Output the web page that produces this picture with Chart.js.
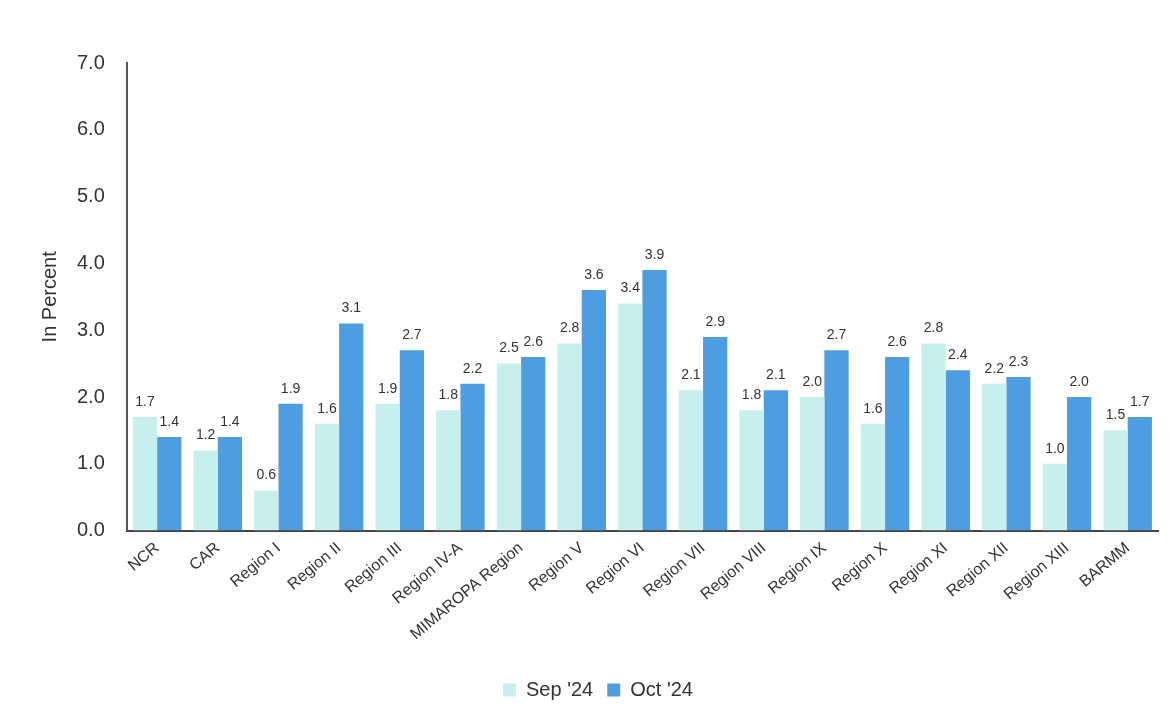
<!DOCTYPE html>
<html>
<head>
<meta charset="utf-8">
<script src="https://cdn.jsdelivr.net/npm/chart.js@4"></script>
<style>
  body { margin: 0; background: #fff; }
  #wrap { width: 1170px; height: 720px; }
</style>
</head>
<body>
<div id="wrap"><canvas id="myChart"></canvas></div>
<script>
var regions = ['NCR', 'CAR', 'Region I', 'Region II', 'Region III', 'Region IV-A', 'MIMAROPA Region',
    'Region V', 'Region VI', 'Region VII', 'Region VIII', 'Region IX', 'Region X', 'Region XI',
    'Region XII', 'Region XIII', 'BARMM'];
var sep24 = [1.7, 1.2, 0.6, 1.6, 1.9, 1.8, 2.5, 2.8, 3.4, 2.1, 1.8, 2.0, 1.6, 2.8, 2.2, 1.0, 1.5];
var oct24 = [1.4, 1.4, 1.9, 3.1, 2.7, 2.2, 2.6, 3.6, 3.9, 2.9, 2.1, 2.7, 2.6, 2.4, 2.3, 2.0, 1.7];
var yTicks = [0, 1, 2, 3, 4, 5, 6, 7];

// numbers above the bars
var barLabels = {
    id: 'barLabels',
    afterDatasetsDraw: function (chart) {
        var ctx = chart.ctx;
        ctx.save();
        ctx.font = '14px "Liberation Sans", Arial, sans-serif';
        ctx.fillStyle = '#333';
        ctx.textAlign = 'center';
        ctx.textBaseline = 'bottom';
        chart.data.datasets.forEach(function (ds, i) {
            chart.getDatasetMeta(i).data.forEach(function (bar, j) {
                ctx.fillText(ds.data[j].toFixed(1), bar.x, bar.y - 8);
            });
        });
        ctx.restore();
    }
};

var ctx = document.getElementById('myChart').getContext('2d');
var chart = new Chart(ctx, {
    type: 'bar',
    data: {
        labels: regions,
        datasets: [{
            label: "Sep '24",
            backgroundColor: '#c6efed',
            data: sep24
        },
        {
            label: "Oct '24",
            backgroundColor: '#4d9de0',
            data: oct24
        }]
    },
    options: {
        responsive: true,
        maintainAspectRatio: false,
        animation: false,
        layout: { padding: { left: 38, right: 12, top: 63, bottom: 10 } },
        datasets: { bar: { categoryPercentage: 0.8, barPercentage: 1.0 } },
        scales: {
            x: {
                grid: { display: false, drawTicks: false },
                border: { color: '#444', width: 2 },
                ticks: {
                    color: '#333',
                    font: { family: '"Liberation Sans", Arial, sans-serif', size: 16 },
                    minRotation: 40,
                    maxRotation: 40,
                    padding: 8
                },
                afterFit: function (axis) { axis.height += 14; }
            },
            y: {
                min: 0,
                max: 7,
                afterBuildTicks: function (axis) {
                    axis.ticks = yTicks.map(function (v) { return { value: v }; });
                },
                grid: { display: false, drawTicks: false },
                border: { color: '#555', width: 2 },
                ticks: {
                    color: '#333',
                    padding: 22,
                    font: { family: '"Liberation Sans", Arial, sans-serif', size: 20 },
                    callback: function (v) { return Number(v).toFixed(1); }
                },
                title: {
                    display: true,
                    text: 'In Percent',
                    color: '#333',
                    padding: { top: 0, bottom: -7 },
                    font: { family: '"Liberation Sans", Arial, sans-serif', size: 20 }
                }
            }
        },
        plugins: {
            legend: {
                position: 'bottom',
                labels: {
                    color: '#333',
                    boxWidth: 13,
                    boxHeight: 13,
                    padding: 14,
                    font: { family: '"Liberation Sans", Arial, sans-serif', size: 20 }
                }
            },
            tooltip: { enabled: false }
        }
    },
    plugins: [barLabels]
});
</script>
</body>
</html>
